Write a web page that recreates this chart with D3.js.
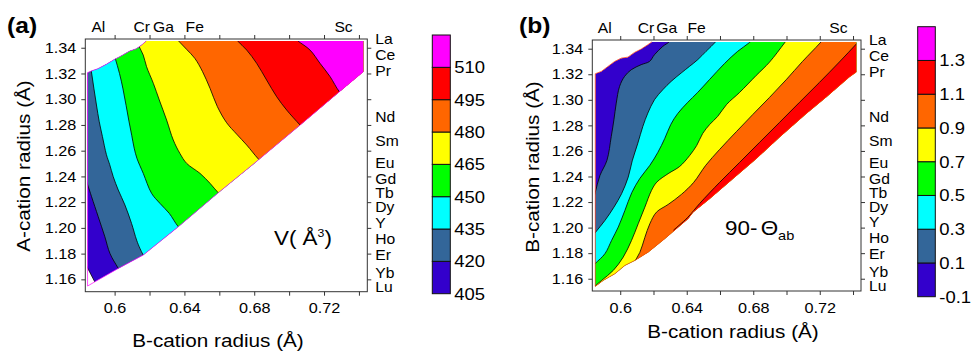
<!DOCTYPE html>
<html>
<head>
<meta charset="utf-8">
<script src="https://cdn.jsdelivr.net/npm/d3@7"></script>
<style>
  body { margin: 0; background: #fff; }
  svg text { font-family: 'Liberation Sans', Arial, Helvetica, sans-serif; fill: #000; }
</style>
</head>
<body>
<svg id="chart" width="971" height="351"></svg>
<script>
// ---- shared axes (ionic radii, Å) ----
const xDomain = [0.5832, 0.7448];
const yDomain = [1.1504, 1.3468];
const xTicks = [0.60, 0.62, 0.64, 0.66, 0.68, 0.70, 0.72, 0.74];
const xTickLabels = ['0.6', '', '0.64', '', '0.68', '', '0.72', ''];
const yTicks = [1.16, 1.18, 1.20, 1.22, 1.24, 1.26, 1.28, 1.30, 1.32, 1.34];
const yTickLabels = ['1.16', '1.18', '1.20', '1.22', '1.24', '1.26', '1.28', '1.30', '1.32', '1.34'];

// B-site cations on the top axis, A-site cations on the right axis
const bSiteNames = ['Al', 'Cr', 'Ga', 'Fe', 'Sc'];
const bSiteRadii = [0.5907, 0.6155, 0.6280, 0.6459, 0.7312];
const aSiteNames = ['La', 'Ce', 'Pr', 'Nd', 'Sm', 'Eu', 'Gd', 'Tb', 'Dy', 'Y', 'Ho', 'Er', 'Yb', 'Lu'];
const aSiteRadii = [1.3468, 1.3344, 1.3219, 1.2864, 1.2677, 1.2502, 1.2382, 1.2268, 1.2164, 1.2040, 1.1916, 1.1791, 1.1651, 1.1543];

// colour bands, low to high
const bandColors = ['#3300cc', '#336699', '#00ffff', '#00ff00', '#ffff00', '#ff6600', '#ff0000', '#ff00ff'];

// ---- (a) cell volume V (Å^3) ----
const vLevels = [405, 420, 435, 450, 465, 480, 495, 510];
const vLevelLabels = ['405', '420', '435', '450', '465', '480', '495', '510'];
const domainA = [[0.5845,1.3206],[0.5866,1.3219],[0.5904,1.3237],[0.5952,1.3271],[0.6000,1.3310],[0.6029,1.3330],
  [0.6086,1.3374],[0.6124,1.3392],[0.6153,1.3419],[0.6181,1.3452],[0.7425,1.3452],[0.7425,1.3213],[0.7288,1.3058],
  [0.7063,1.2799],[0.6823,1.2527],[0.6594,1.2273],[0.6365,1.2009],[0.6164,1.1789],[0.6021,1.1685],[0.5887,1.1581],[0.5845,1.1548]];
const v405 = [[0.5803,1.1797],[0.5845,1.1688],[0.5887,1.1579],[0.5929,1.1470]];
const v420 = [[0.5800,1.2520],[0.5843,1.2346],[0.5868,1.2242],[0.5906,1.2087],[0.5944,1.1931],[0.5973,1.1802],[0.6021,1.1685],[0.6070,1.1570]];
const v435 = [[0.5850,1.3350],[0.5867,1.3214],[0.5881,1.3086],[0.5896,1.2955],[0.5912,1.2825],[0.5930,1.2711],[0.5953,1.2569],
  [0.5972,1.2491],[0.5992,1.2398],[0.6021,1.2294],[0.6059,1.2178],[0.6097,1.2035],[0.6126,1.1905],[0.6145,1.1841],[0.6164,1.1789],[0.6200,1.1720]];
const v450 = [[0.5977,1.3450],[0.6003,1.3320],[0.6028,1.3200],[0.6048,1.3080],[0.6066,1.2950],[0.6082,1.2830],[0.6098,1.2720],
  [0.6112,1.2620],[0.6128,1.2540],[0.6164,1.2424],[0.6212,1.2268],[0.6260,1.2190],[0.6313,1.2113],[0.6365,1.2009],[0.6420,1.1940]];
const v465 = [[0.6110,1.3520],[0.6141,1.3408],[0.6164,1.3343],[0.6183,1.3253],[0.6222,1.3123],[0.6256,1.2994],[0.6298,1.2838],
  [0.6336,1.2683],[0.6374,1.2579],[0.6413,1.2501],[0.6489,1.2424],[0.6547,1.2346],[0.6594,1.2273],[0.6650,1.2210]];
const v480 = [[0.6320,1.3520],[0.6365,1.3455],[0.6413,1.3387],[0.6460,1.3317],[0.6504,1.3214],[0.6547,1.3084],[0.6589,1.2942],
  [0.6642,1.2817],[0.6699,1.2729],[0.6757,1.2644],[0.6824,1.2535],[0.6880,1.2460]];
const v495 = [[0.6660,1.3520],[0.6703,1.3455],[0.6757,1.3382],[0.6814,1.3279],[0.6871,1.3149],[0.6929,1.3019],[0.6986,1.2916],[0.7063,1.2799],[0.7120,1.2720]];
const v510 = [[0.7000,1.3520],[0.7049,1.3455],[0.7120,1.3382],[0.7177,1.3279],[0.7235,1.3175],[0.7288,1.3058],[0.7350,1.2970]];

// ---- (b) 90 - Theta_ab ----
const tLevels = [-0.1, 0.1, 0.3, 0.5, 0.7, 0.9, 1.1, 1.3];
const tLevelLabels = ['-0.1', '0.1', '0.3', '0.5', '0.7', '0.9', '1.1', '1.3'];
const domainB = [[0.5850,1.3204],[0.5886,1.3222],[0.5926,1.3261],[0.5966,1.3300],[0.6006,1.3326],[0.6046,1.3334],[0.6086,1.3371],
  [0.6126,1.3397],[0.6166,1.3431],[0.6190,1.3453],[0.7420,1.3453],[0.7420,1.3217],[0.7378,1.3178],[0.7238,1.3021],[0.7118,1.2891],
  [0.6958,1.2708],[0.6818,1.2539],[0.6678,1.2383],[0.6538,1.2226],[0.6438,1.2121],[0.6408,1.2070],[0.6268,1.1913],[0.6168,1.1808],
  [0.6088,1.1743],[0.6028,1.1704],[0.5968,1.1639],[0.5898,1.1587],[0.5850,1.1540]];
const t01 = [[0.5810,1.2090],[0.5848,1.2267],[0.5878,1.2408],[0.5920,1.2526],[0.5946,1.2713],[0.5962,1.2844],[0.5976,1.2974],
  [0.5996,1.3105],[0.6026,1.3183],[0.6066,1.3235],[0.6126,1.3275],[0.6176,1.3300],[0.6206,1.3353],[0.6256,1.3418],[0.6296,1.3457],[0.6330,1.3550]];
const t03 = [[0.5780,1.1840],[0.5848,1.1958],[0.5908,1.2056],[0.5962,1.2160],[0.6008,1.2265],[0.6048,1.2395],[0.6072,1.2522],
  [0.6106,1.2661],[0.6136,1.2792],[0.6166,1.2896],[0.6206,1.3001],[0.6256,1.3079],[0.6306,1.3144],[0.6366,1.3209],[0.6416,1.3261],
  [0.6466,1.3314],[0.6516,1.3379],[0.6576,1.3457],[0.6630,1.3550]];
const t05 = [[0.5760,1.1600],[0.5848,1.1717],[0.5908,1.1796],[0.5948,1.1900],[0.5988,1.2004],[0.6028,1.2134],[0.6070,1.2275],
  [0.6118,1.2385],[0.6178,1.2487],[0.6226,1.2588],[0.6268,1.2698],[0.6304,1.2807],[0.6346,1.2893],[0.6406,1.2980],[0.6466,1.3058],
  [0.6538,1.3160],[0.6628,1.3285],[0.6706,1.3379],[0.6778,1.3449],[0.6860,1.3550]];
const t07 = [[0.5820,1.1510],[0.5888,1.1587],[0.5958,1.1665],[0.6018,1.1769],[0.6068,1.1900],[0.6108,1.2030],[0.6148,1.2160],
  [0.6188,1.2291],[0.6220,1.2356],[0.6288,1.2422],[0.6358,1.2479],[0.6418,1.2565],[0.6460,1.2643],[0.6496,1.2737],[0.6538,1.2807],
  [0.6586,1.2870],[0.6640,1.2964],[0.6718,1.3058],[0.6818,1.3191],[0.6898,1.3295],[0.6988,1.3445],[0.7050,1.3550]];
const t09 = [[0.6030,1.1610],[0.6078,1.1717],[0.6118,1.1806],[0.6148,1.1923],[0.6178,1.2030],[0.6218,1.2121],[0.6288,1.2181],
  [0.6368,1.2260],[0.6442,1.2354],[0.6514,1.2487],[0.6598,1.2612],[0.6700,1.2753],[0.6798,1.2886],[0.6898,1.3019],[0.6998,1.3157],
  [0.7096,1.3300],[0.7202,1.3445],[0.7270,1.3550]];
const t11 = [[0.6320,1.1980],[0.6406,1.2080],[0.6478,1.2189],[0.6598,1.2354],[0.6718,1.2510],[0.6838,1.2667],[0.6958,1.2823],
  [0.7078,1.2980],[0.7198,1.3136],[0.7318,1.3296],[0.7420,1.3437],[0.7500,1.3550]];

const svg = d3.select('#chart');
const STRETCH = 1.12;   // the figure's lettering is a little wider than Arial

function label(parent, x, y, str, size, anchor, rotate) {
  return parent.append('text')
    .attr('transform', `translate(${x},${y})` + (rotate ? ` rotate(${rotate})` : '') + ` scale(${STRETCH},1)`)
    .attr('font-size', size)
    .attr('text-anchor', anchor || 'start')
    .text(str);
}

function drawPanel(cfg) {
  const x = d3.scaleLinear().domain(xDomain).range([cfg.left, cfg.right]);
  const y = d3.scaleLinear().domain(yDomain).range([cfg.bottom, cfg.top]);
  const g = svg.append('g');

  const poly = d3.line().x(d => x(d[0])).y(d => y(d[1]));
  const smooth = d3.line().x(d => x(d[0])).y(d => y(d[1])).curve(d3.curveCatmullRom.alpha(0.5));
  const area = c => smooth(c) + cfg.closure(c).map(p => `L${x(p[0])},${y(p[1])}`).join('') + 'Z';

  g.append('clipPath').attr('id', 'clip-' + cfg.id)
    .append('path').attr('d', poly(cfg.domain) + 'Z');

  const fills = g.append('g').attr('clip-path', `url(#clip-${cfg.id})`);
  if (cfg.baseColor) fills.append('path').attr('d', poly(cfg.domain) + 'Z').attr('fill', cfg.baseColor);
  cfg.contours.forEach((c, i) => fills.append('path').attr('d', area(c)).attr('fill', cfg.fillColors[i]));
  cfg.contours.forEach(c => fills.append('path').attr('d', smooth(c))
    .attr('fill', 'none').attr('stroke', '#000').attr('stroke-width', 0.8));

  // thin coloured rim on the open edges of the region (not along the frame top/right)
  const rim = cfg.domain.slice(11).concat(cfg.domain.slice(0, 10));
  g.append('path').attr('d', poly(rim))
    .attr('fill', 'none').attr('stroke', cfg.edgeColor).attr('stroke-width', 0.7);

  // frame
  g.append('rect').attr('x', cfg.left).attr('y', cfg.top)
    .attr('width', cfg.right - cfg.left).attr('height', cfg.bottom - cfg.top)
    .attr('fill', 'none').attr('stroke', '#333').attr('stroke-width', 1);

  const styleAxis = (sel, size) => {
    sel.attr('font-size', null).attr('font-family', null);
    sel.select('.domain').remove();
    sel.selectAll('.tick line').attr('stroke', '#333');
    sel.selectAll('.tick text').attr('font-size', size).attr('fill', '#000')
      .attr('transform', `scale(${STRETCH},1)`);
  };

  g.append('g').attr('transform', `translate(${cfg.left},0)`)
    .call(d3.axisLeft(y).tickValues(yTicks).tickFormat((d, i) => yTickLabels[i]).tickSize(4).tickPadding(4))
    .call(s => styleAxis(s, 14.5));
  g.append('g').attr('transform', `translate(${cfg.right},0)`)
    .call(d3.axisRight(y).tickValues(yTicks).tickFormat('').tickSize(4))
    .call(s => styleAxis(s, 14.5));
  g.append('g').attr('transform', `translate(0,${cfg.bottom})`)
    .call(d3.axisBottom(x).tickValues(xTicks).tickFormat((d, i) => xTickLabels[i]).tickSize(4).tickPadding(cfg.xPad))
    .call(s => styleAxis(s, 14.5));
  g.append('g').attr('transform', `translate(0,${cfg.top})`)
    .call(d3.axisTop(x).tickValues(xTicks).tickFormat('').tickSize(4))
    .call(s => styleAxis(s, 14.5));

  bSiteNames.forEach((n, i) => label(g, x(bSiteRadii[i]), cfg.top - 7, n, 14, 'middle'));
  aSiteNames.forEach((n, i) => label(g, cfg.right + 8, y(aSiteRadii[i]) + 5, n, 14, 'start'));

  label(g, cfg.xTitle[0], cfg.xTitle[1], 'B-cation radius (Å)', 18.5, 'middle');
  label(g, cfg.yTitle[0], cfg.yTitle[1], cfg.yTitleText, 18.5, 'middle', -90);
  label(g, cfg.tag[0], cfg.tag[1], cfg.tagText, 22, 'start').attr('font-weight', 'bold');

  // colour bar
  const cb = cfg.bar;
  const step = cb.levels[1] - cb.levels[0];
  const cy = d3.scaleLinear()
    .domain([cb.levels[0], cb.levels[cb.levels.length - 1] + step])
    .range([cb.bottom, cb.top]);
  const bar = g.append('g');
  cb.levels.forEach((lv, i) => {
    bar.append('rect').attr('x', cb.left).attr('width', cb.width)
      .attr('y', cy(lv + step)).attr('height', cy(lv) - cy(lv + step))
      .attr('fill', bandColors[i]).attr('stroke', '#111').attr('stroke-width', 1);
    label(bar, cb.left + cb.width + 4, cy(lv) + 6, cb.labels[i], 16.5, 'start');
  });

  return {g, x, y};
}

const closeRight = c => [[0.80, 1.10], [0.80, 1.40], [c[0][0], 1.40]];
const closeBelow = c => [[0.80, 1.40], [0.80, 1.10], [c[0][0], 1.10]];

const pa = drawPanel({
  id: 'a', left: 85.3, right: 367.3, top: 39, bottom: 291.7, xPad: 7,
  domain: domainA, baseColor: null, edgeColor: '#ff00ff',
  contours: [v405, v420, v435, v450, v465, v480, v495, v510],
  fillColors: bandColors, closure: closeRight,
  xTitle: [218, 347], yTitle: [30, 166], yTitleText: 'A-cation radius (Å)',
  tag: [7, 33], tagText: '(a)',
  bar: {left: 432.3, width: 18, top: 35, bottom: 293.7, levels: vLevels, labels: vLevelLabels}
});

const pb = drawPanel({
  id: 'b', left: 592.3, right: 861, top: 40, bottom: 291, xPad: 8,
  domain: domainB, baseColor: bandColors[0], edgeColor: '#ff3300',
  contours: [t01, t03, t05, t07, t09, t11],
  fillColors: bandColors.slice(1), closure: closeBelow,
  xTitle: [733, 337.5], yTitle: [539, 167], yTitleText: 'B-cation radius (Å)',
  tag: [519, 33], tagText: '(b)',
  bar: {left: 917.7, width: 17.6, top: 26.7, bottom: 296.7, levels: tLevels, labels: tLevelLabels}
});

// quantity labels inside the plots
const vt = label(pa.g, 274, 245, '', 20, 'start');
vt.append('tspan').text('V( Å');
vt.append('tspan').attr('font-size', 11).attr('dy', -8).text('3');
vt.append('tspan').attr('dy', 8).text(')');

const tt = label(pb.g, 725, 235, '', 20, 'start');
tt.append('tspan').text('90-');
tt.append('tspan').attr('dx', 3).text('Θ');
tt.append('tspan').attr('font-size', 13).attr('dy', 5).text('ab');
</script>
</body>
</html>
